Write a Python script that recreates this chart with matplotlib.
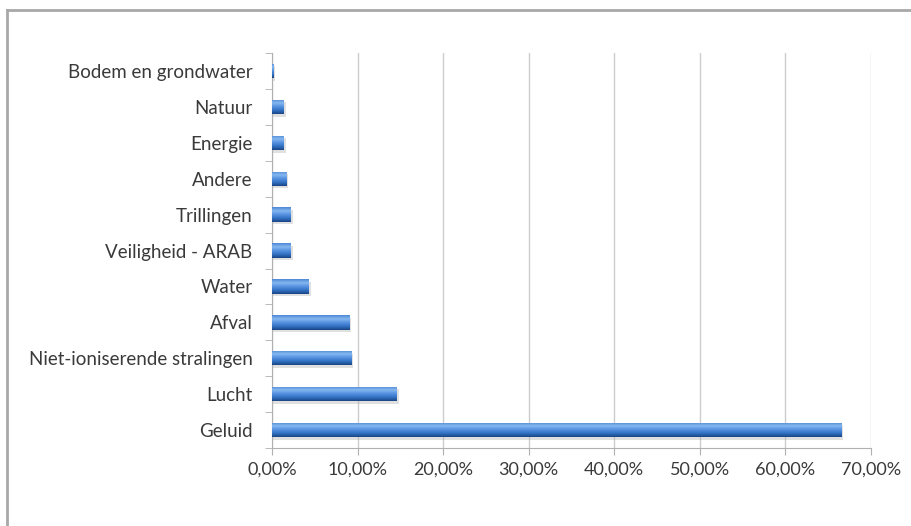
import matplotlib.pyplot as plt
import numpy as np
from matplotlib.colors import LinearSegmentedColormap
from matplotlib.lines import Line2D

# Categories (bottom to top) and their shares in percent
categories = ['Geluid', 'Lucht', 'Niet-ioniserende stralingen', 'Afval', 'Water',
              'Veiligheid - ARAB', 'Trillingen', 'Andere', 'Energie', 'Natuur',
              'Bodem en grondwater']
values = [66.5, 14.6, 9.3, 9.0, 4.3, 2.2, 2.2, 1.7, 1.4, 1.4, 0.2]
xticks = [0, 10, 20, 30, 40, 50, 60, 70]

plt.rcParams['font.family'] = ['Lato', 'DejaVu Sans']

fig = plt.figure(figsize=(9.11, 5.26), dpi=100)
ax = fig.add_axes([0.2986, 0.1483, 0.9561 - 0.2986, 0.899 - 0.1483])

# Outer chart frame (only top and left edges are visible in the crop)
fig.add_artist(Line2D([7 / 911, 1], [1 - 10 / 526, 1 - 10 / 526], transform=fig.transFigure,
                      color='#a8a8a8', lw=2))
fig.add_artist(Line2D([7 / 911, 7 / 911], [0, 1 - 10 / 526], transform=fig.transFigure,
                      color='#a8a8a8', lw=2))

y = np.arange(len(categories))
h = 0.4

# gradient for the cylinder-like bars
cmap = LinearSegmentedColormap.from_list('bar', ['#1a4582', '#3371c4', '#5591df', '#86b8f0', '#4d87d4'])
grad = np.linspace(0, 1, 64).reshape(-1, 1)

for yi, v in zip(y, values):
    # soft shadow
    ax.barh(yi - 0.07, v + 0.2, height=h, color='#a8a8a8', alpha=0.35, zorder=2, lw=0)
    bar = ax.barh(yi, v, height=h, color='#3a74c0', zorder=3, lw=0)[0]
    im = ax.imshow(grad, cmap=cmap, aspect='auto', zorder=4,
                   extent=[0, v, yi - h / 2, yi + h / 2], origin='lower')
    im.set_clip_path(bar)

ax.set_xlim(0, 70)
ax.set_ylim(-0.5, len(categories) - 0.5)
ax.set_xticks(xticks)
ax.set_xticklabels([f'{t:.2f}%'.replace('.', ',') for t in xticks])
ax.set_yticks(y)
ax.set_yticklabels(categories)
ax.set_yticks(np.arange(-0.5, len(categories), 1), minor=True)

ax.grid(axis='x', color='#cccccc', lw=1, zorder=0)
ax.set_axisbelow(True)
for s in ['top', 'right']:
    ax.spines[s].set_visible(False)
for s in ['left', 'bottom']:
    ax.spines[s].set_color('#b0b0b0')
ax.tick_params(axis='y', which='major', length=0, pad=14, labelsize=13.5, labelcolor='#3a3a3a')
ax.tick_params(axis='y', which='minor', length=5, color='#b0b0b0')
ax.tick_params(axis='x', length=5, color='#b0b0b0', pad=5, labelsize=13, labelcolor='#3a3a3a')

fig.savefig('out.png', dpi=100)
